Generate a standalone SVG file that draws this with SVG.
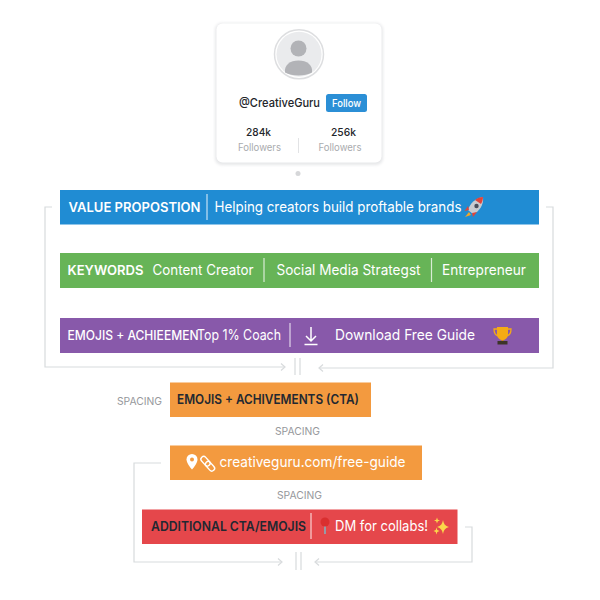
<svg xmlns="http://www.w3.org/2000/svg" width="600" height="600" viewBox="0 0 600 600">
<defs>
<filter id="soft" x="-10%" y="-10%" width="120%" height="120%"><feGaussianBlur stdDeviation="1.500"/></filter>
</defs>
<style>
text{font-family:Inter,"Liberation Sans",sans-serif}
.bar-t{fill:#fff;font-size:14.500px}
.b{font-weight:600}
.dark{fill:#222831;font-weight:600;font-size:13px}
.sp{fill:#96989c;font-size:10.500px}
.sep{stroke:#fff;stroke-opacity:.75;stroke-width:1.200}
.conn{fill:none;stroke:#d8dbdd;stroke-width:1.200}
.arrow{fill:none;stroke:#d8dbdd;stroke-width:1.200}
</style>
<rect width="600" height="600" fill="#fff"/>
<g id="connectors">
<path class="conn" d="M52 207H45V367H284"/>
<path class="arrow" d="M281 363.500L285 367L281 370.500"/>
<path class="conn" d="M546 207H553V368H320"/>
<path class="arrow" d="M323 364.500L319 368L323 371.500"/>
<path class="conn" d="M295 358V375M300 358V375"/>
<path class="conn" d="M161 463H134V562H281"/>
<path class="arrow" d="M278 558.500L282 562L278 565.500"/>
<path class="conn" d="M465 527H472V562H316"/>
<path class="arrow" d="M319 558.500L315 562L319 565.500"/>
<path class="conn" d="M296 552V570M301 552V570"/>
</g>
<g id="profile-card">
<rect x="215" y="23" width="168" height="142" rx="7" fill="#e6e7e9" filter="url(#soft)"/>
<rect x="216.500" y="23.500" width="165" height="139" rx="6" fill="#fff"/>
<circle cx="299" cy="54.300" r="24.500" fill="#fff" stroke="#dddee0" stroke-width="1.500"/>
<circle cx="299" cy="54.300" r="22.500" fill="#eaebed"/>
<circle cx="298.500" cy="48.500" r="8" fill="#b2b3b7"/>
<path d="M285 72.500C284 65 290 60.500 298.500 60.500C307 60.500 313 65 312 72.500C305 76.500 292 76.500 285 72.500Z" fill="#b2b3b7"/>
<text x="239" y="107" font-size="12" font-weight="500" fill="#23262b" textLength="81" lengthAdjust="spacingAndGlyphs">@CreativeGuru</text>
<rect x="326" y="94" width="41" height="18" rx="2.500" fill="#2b8fd6"/>
<text x="332" y="107" font-size="11" font-weight="500" fill="#fff" textLength="29" lengthAdjust="spacingAndGlyphs">Follow</text>
<text x="246" y="135.500" font-size="11" font-weight="500" fill="#23262b" textLength="25" lengthAdjust="spacingAndGlyphs">284k</text>
<text x="331" y="135.500" font-size="11" font-weight="500" fill="#23262b" textLength="25" lengthAdjust="spacingAndGlyphs">256k</text>
<text x="238" y="151" font-size="10" fill="#a9abae" textLength="43" lengthAdjust="spacingAndGlyphs">Followers</text>
<text x="318.500" y="151" font-size="10" fill="#a9abae" textLength="43" lengthAdjust="spacingAndGlyphs">Followers</text>
<path d="M298.500 138V153" stroke="#e2e3e5" stroke-width="1"/>
</g>
<circle id="card-dot" cx="298" cy="173.500" r="2.500" fill="#d6d7d9"/>
<g id="value-proposition">
<rect x="60" y="190" width="479" height="34.500" fill="#208cd3"/>
<text class="bar-t b" x="68.500" y="212" style="font-size:12.800px" textLength="132" lengthAdjust="spacingAndGlyphs">VALUE PROPOSTION</text>
<path class="sep" d="M207 194V220"/>
<text class="bar-t" x="214.500" y="212" textLength="247" lengthAdjust="spacingAndGlyphs">Helping creators build proftable brands</text>
<g id="rocket">
<path d="M483 197C476 198 470 203 468 210L473 214C479 212 484 205 483 197Z" fill="#c9cbd0"/>
<path d="M483 197C480 197 477 198 475 200L481 204C482 202 483 200 483 197Z" fill="#e0453a"/>
<circle cx="476.500" cy="206" r="2.200" fill="#4a4f5c"/>
<path d="M468 206L464.500 211L469 210ZM477 212L473 217L472 213Z" fill="#e0453a"/>
<path d="M469 212L465 217L471 215Z" fill="#f5a623"/>
</g>
</g>
<g id="keywords">
<rect x="60" y="253" width="479" height="35" fill="#67b457"/>
<text class="bar-t b" x="67.500" y="275" style="font-size:13.500px" textLength="76" lengthAdjust="spacingAndGlyphs">KEYWORDS</text>
<text class="bar-t" x="152.500" y="275" textLength="101" lengthAdjust="spacingAndGlyphs">Content Creator</text>
<path class="sep" d="M264 258V282"/>
<text class="bar-t" x="276.500" y="275" textLength="144" lengthAdjust="spacingAndGlyphs">Social Media Strategst</text>
<path class="sep" d="M431.500 258V282"/>
<text class="bar-t" x="442" y="275" textLength="84" lengthAdjust="spacingAndGlyphs">Entrepreneur</text>
</g>
<g id="emojis-achievements">
<rect x="60" y="318" width="479" height="35" fill="#8859aa"/>
<text class="bar-t" x="67.500" y="340" style="font-size:12.500px;font-weight:500" textLength="131" lengthAdjust="spacingAndGlyphs">EMOJIS + ACHIEEMEN</text>
<text class="bar-t" x="197" y="340" textLength="84" lengthAdjust="spacingAndGlyphs">Top 1% Coach</text>
<path class="sep" d="M290 323V347"/>
<path d="M311 327V341M306 336L311 341L316 336M304.500 344.500H317.500" fill="none" stroke="#fff" stroke-width="1.500"/>
<text class="bar-t" x="335" y="340" textLength="140" lengthAdjust="spacingAndGlyphs">Download Free Guide</text>
<g id="trophy">
<path d="M497 327H508V334C508 338 505 340 502.500 340C500 340 497 338 497 334Z" fill="#f5ab15"/>
<path d="M497 329H494C494 333 495 335 498 336M508 329H511C511 333 510 335 507 336" fill="none" stroke="#f5ab15" stroke-width="1.300"/>
<path d="M501.500 340H503.500V341H501.500Z" fill="#d08a10"/>
<rect x="497.500" y="341" width="10" height="3.500" fill="#3c3428"/>
</g>
</g>
<g id="spacing-labels">
<text class="sp" x="117" y="405" textLength="45" lengthAdjust="spacingAndGlyphs">SPACING</text>
<text class="sp" x="275" y="434.500" textLength="45" lengthAdjust="spacingAndGlyphs">SPACING</text>
<text class="sp" x="277" y="498.500" textLength="45" lengthAdjust="spacingAndGlyphs">SPACING</text>
</g>
<g id="cta-heading">
<rect x="170" y="382.500" width="201" height="34.500" fill="#f39a3f"/>
<text class="dark" x="177" y="404" textLength="182" lengthAdjust="spacingAndGlyphs">EMOJIS + ACHIVEMENTS (CTA)</text>
</g>
<g id="cta-link">
<rect x="170" y="445.500" width="252" height="34.500" fill="#f39a3f"/>
<path d="M192 454A5.500 5.500 0 0 1 197.500 459.500C197.500 463.500 192 469.500 192 469.500C192 469.500 186.500 463.500 186.500 459.500A5.500 5.500 0 0 1 192 454Z" fill="#fff"/>
<circle cx="192" cy="459.500" r="2" fill="#f39a3f"/>
<g fill="none" stroke="#fff" stroke-width="1.400">
<rect x="200" y="458.500" width="11" height="5.500" rx="2.750" transform="rotate(48 205.500 461.250)"/>
<rect x="204.500" y="463.500" width="11" height="5.500" rx="2.750" transform="rotate(48 210 466.250)"/>
</g>
<text class="bar-t" x="219.500" y="467" textLength="186" lengthAdjust="spacingAndGlyphs">creativeguru.com/free-guide</text>
</g>
<g id="additional-cta">
<rect x="142" y="509.500" width="315.500" height="34.500" fill="#e5474b"/>
<text class="dark" x="151" y="531" textLength="155" lengthAdjust="spacingAndGlyphs">ADDITIONAL CTA/EMOJIS</text>
<path class="sep" d="M311 513V539"/>
<path d="M325 526V534" stroke="#8fa3b0" stroke-width="1.800"/>
<circle cx="325" cy="522" r="4.500" fill="#d92f2f"/>
<text class="bar-t" x="335" y="531" textLength="93" lengthAdjust="spacingAndGlyphs">DM for collabs!</text>
<path d="M443 520C444 524.500 445 525.500 449 527C445 528.500 444 529.500 443 534C442 529.500 441 528.500 437 527C441 525.500 442 524.500 443 520Z" fill="#fbd84a"/>
<path d="M437 517.500L437.800 519.700L440 520.500L437.800 521.300L437 523.500L436.200 521.300L434 520.500L436.200 519.700ZM436.500 527.500L437.300 530L439.500 531L437.300 532L436.500 534.500L435.700 532L433.500 531L435.700 530Z" fill="#fbd84a"/>
</g>
</svg>
